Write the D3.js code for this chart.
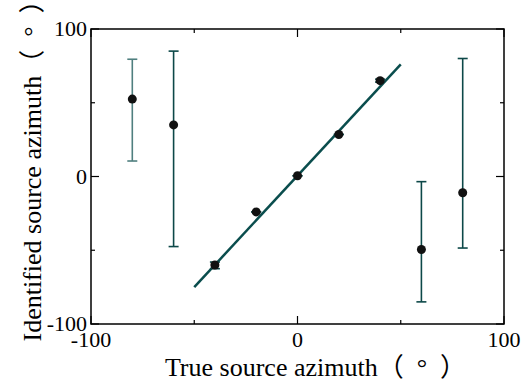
<!DOCTYPE html>
<html>
<head>
<meta charset="utf-8">
<script src="https://cdn.jsdelivr.net/npm/d3@7"></script>
<style>
  body { margin: 0; background: #fff; }
  text { font-family: "Liberation Serif", "Noto Sans CJK JP", serif; }
</style>
</head>
<body>
<svg width="527" height="383"></svg>
<script>
        // True azimuth, identified azimuth and error bar ends
        var trueAz = [-80, -60, -40, -20, 0, 20, 40, 60, 80];
        var identAz = [52.5, 35, -60, -24, 0.5, 28.5, 65, -49.5, -11];
        var errLow = [10.5, -47.5, -62.5, -24, 0.5, 28.5, 64, -85, -48.5];
        var errHigh = [79.5, 85, -58, -24, 0.5, 28.5, 66, -3.5, 80];
        var barColors = ["#4f7f7f", "#0d4848", "#0d4848", "#0d4848", "#0d4848", "#0d4848", "#0d4848", "#0d4848", "#0d4848"];

        // Fitted line ends
        var lineX = [-50, 50];
        var lineY = [-75, 76];

        var tickValues = [-100, -50, 0, 50, 100];
        var majorTicks = [-100, 0, 100];

        const margin = {top: 29, right: 23, bottom: 59, left: 91};
        var w = 527 - margin.left - margin.right;
        var h = 383 - margin.top - margin.bottom;

        var svg = d3.select("svg")
                    .append("g")
                    .attr("transform", "translate(" + margin.left + "," + margin.top + ")");

        var xScale = d3.scaleLinear().domain([-100, 100]).range([0, w]);
        var yScale = d3.scaleLinear().domain([-100, 100]).range([h, 0]);

        function tickLen(d) {
            return majorTicks.indexOf(d) >= 0 ? 8 : 4;
        }

        // Frame
        svg.append("rect")
            .attr("width", w)
            .attr("height", h)
            .attr("fill", "none")
            .attr("stroke", "#000")
            .attr("stroke-width", 1.5);

        // Inward ticks on all four sides
        svg.selectAll(".xt-bottom").data(tickValues).enter().append("line")
            .attr("x1", d => xScale(d)).attr("x2", d => xScale(d))
            .attr("y1", h).attr("y2", d => h - tickLen(d))
            .attr("stroke", "#000").attr("stroke-width", 1.2);
        svg.selectAll(".xt-top").data(tickValues).enter().append("line")
            .attr("x1", d => xScale(d)).attr("x2", d => xScale(d))
            .attr("y1", 0).attr("y2", d => tickLen(d))
            .attr("stroke", "#000").attr("stroke-width", 1.2);
        svg.selectAll(".yt-left").data(tickValues).enter().append("line")
            .attr("y1", d => yScale(d)).attr("y2", d => yScale(d))
            .attr("x1", 0).attr("x2", d => tickLen(d))
            .attr("stroke", "#000").attr("stroke-width", 1.2);
        svg.selectAll(".yt-right").data(tickValues).enter().append("line")
            .attr("y1", d => yScale(d)).attr("y2", d => yScale(d))
            .attr("x1", w).attr("x2", d => w - tickLen(d))
            .attr("stroke", "#000").attr("stroke-width", 1.2);

        // Tick labels
        svg.selectAll(".xl").data(majorTicks).enter().append("text")
            .attr("x", d => xScale(d))
            .attr("y", h + 23)
            .attr("text-anchor", "middle")
            .attr("font-size", "22px")
            .text(d => d);
        svg.selectAll(".yl").data(majorTicks).enter().append("text")
            .attr("x", -4)
            .attr("y", d => yScale(d) + 7)
            .attr("text-anchor", "end")
            .attr("font-size", "22px")
            .text(d => d);

        // Fitted line
        svg.append("line")
            .attr("x1", xScale(lineX[0])).attr("y1", yScale(lineY[0]))
            .attr("x2", xScale(lineX[1])).attr("y2", yScale(lineY[1]))
            .attr("stroke", "#0a4d4d")
            .attr("stroke-width", 2.5);

        // Error bars
        var bars = svg.selectAll(".err").data(trueAz).enter().append("g");
        bars.append("line")
            .attr("x1", d => xScale(d)).attr("x2", d => xScale(d))
            .attr("y1", (d, i) => yScale(errLow[i])).attr("y2", (d, i) => yScale(errHigh[i]))
            .attr("stroke", (d, i) => barColors[i]).attr("stroke-width", 1.6);
        bars.append("line")
            .attr("x1", d => xScale(d) - 5).attr("x2", d => xScale(d) + 5)
            .attr("y1", (d, i) => yScale(errLow[i])).attr("y2", (d, i) => yScale(errLow[i]))
            .attr("stroke", (d, i) => barColors[i]).attr("stroke-width", 1.6);
        bars.append("line")
            .attr("x1", d => xScale(d) - 5).attr("x2", d => xScale(d) + 5)
            .attr("y1", (d, i) => yScale(errHigh[i])).attr("y2", (d, i) => yScale(errHigh[i]))
            .attr("stroke", (d, i) => barColors[i]).attr("stroke-width", 1.6);

        // Points
        svg.selectAll("circle").data(trueAz).enter().append("circle")
            .attr("cx", d => xScale(d))
            .attr("cy", (d, i) => yScale(identAz[i]))
            .attr("r", 4.5)
            .attr("fill", "#111");

        // Axis titles
        svg.append("text")
            .attr("x", w / 2 + 18)
            .attr("y", h + 52)
            .attr("text-anchor", "middle")
            .attr("font-size", "26px")
            .text("True source azimuth（\u2002°\u2002）");
        svg.append("text")
            .attr("transform", "rotate(-90)")
            .attr("x", -h / 2 + 12)
            .attr("y", -50)
            .attr("text-anchor", "middle")
            .attr("font-size", "26px")
            .text("Identified source azimuth（\u2002°\u2002）");
</script>
</body>
</html>
